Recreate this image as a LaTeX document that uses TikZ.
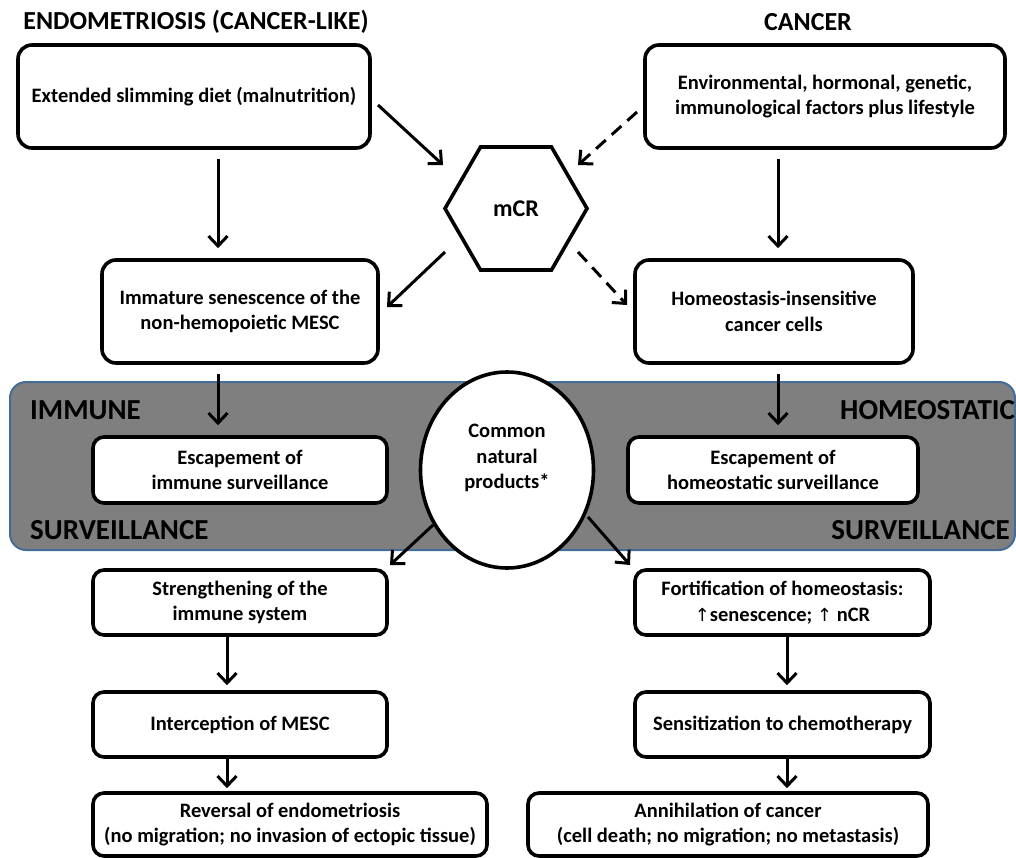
\documentclass[tikz,border=0pt]{standalone}
\usepackage{fontspec}
\setmainfont{Carlito}
\newfontfamily\arrowfont{DejaVu Sans}
\usetikzlibrary{arrows.meta,shapes.geometric}
\definecolor{bandgrey}{RGB}{127,127,127}
\definecolor{bandblue}{RGB}{68,108,152}
\begin{document}
\begin{tikzpicture}[x=1pt,y=-1pt,
  bodyfont/.style={font=\fontsize{20.5}{25.5}\selectfont\bfseries},
  box/.style={draw, line width=3.6pt, rounded corners=14pt, fill=white, align=center, inner sep=0pt, bodyfont},
  arr/.style={line width=3pt, -{Straight Barb[length=10pt,width=19pt,line width=3pt]}},
  darr/.style={arr, dash pattern=on 13pt off 8pt},
  title/.style={font=\fontsize{26}{30}\selectfont\bfseries},
  bandlbl/.style={font=\fontsize{29}{32}\selectfont\bfseries, inner sep=0pt}]
\useasboundingbox (0,0) rectangle (1016,858);

% grey band
\node (band) [rectangle, rounded corners=16pt, fill=bandgrey, draw=bandblue, line width=2pt,
  minimum width=1005pt, minimum height=168pt, inner sep=0pt] at (512.5,466) {};
\node (lblImm) [bandlbl, anchor=west] at (30,410) {IMMUNE};
\node (lblSurvL) [bandlbl, anchor=west] at (30,530) {SURVEILLANCE};
\node (lblHom) [bandlbl, anchor=west] at (840,410) {HOMEOSTATIC};
\node (lblSurvR) [bandlbl, anchor=east] at (1010,530) {SURVEILLANCE};

% titles
\node (tEndo) [title] at (196,22) {ENDOMETRIOSIS (CANCER-LIKE)};
\node (tCan) [title] at (808,22) {CANCER};

% boxes
\node (box1) [box, minimum width=352pt, minimum height=103pt] at (194,96.5) {Extended slimming diet (malnutrition)};
\node (box2) [box, minimum width=360pt, minimum height=103pt] at (825,96.5) {Environmental, hormonal, genetic,\\immunological factors plus lifestyle};
\node (hex) [draw, line width=3.6pt, regular polygon, regular polygon sides=6, minimum size=142pt, inner sep=0pt,
  font=\fontsize{24}{28}\selectfont\bfseries] at (516,208.5) {mCR};
\node (box3) [box, minimum width=276pt, minimum height=103pt] at (240,311.5) {Immature senescence of the\\non-hemopoietic MESC};
\node (box4) [box, minimum width=278pt, minimum height=103pt] at (774,311.5) {Homeostasis-insensitive\\cancer cells};
\node (box5) [box, rounded corners=11pt, minimum width=294pt, minimum height=66pt] at (240,470) {Escapement of\\immune surveillance};
\node (box6) [box, rounded corners=11pt, minimum width=290pt, minimum height=66pt] at (773,470) {Escapement of\\homeostatic surveillance};
\node (cnp) [ellipse, draw, line width=3.6pt, fill=white, minimum width=173pt, minimum height=196pt, inner sep=0pt,
  label={[bodyfont, align=center, yshift=12pt]center:Common\\natural\\products*}] at (507,470) {};
\node (box7) [box, rounded corners=11pt, minimum width=294pt, minimum height=65pt] at (240,602.5) {Strengthening of the\\immune system};
\node (box8) [box, rounded corners=11pt, minimum width=295pt, minimum height=65pt] at (782.5,602.5) {Fortification of homeostasis:\\{\arrowfont\mdseries\fontsize{18}{20}\selectfont ↑}senescence; {\arrowfont\mdseries\fontsize{18}{20}\selectfont ↑} nCR};
\node (box9) [box, rounded corners=11pt, minimum width=294pt, minimum height=65pt] at (240,724.5) {Interception of MESC};
\node (box10) [box, rounded corners=11pt, minimum width=295pt, minimum height=65pt] at (782.5,724.5) {Sensitization to chemotherapy};
\node (box11) [box, rounded corners=11pt, minimum width=394pt, minimum height=63pt] at (290,824.5) {Reversal of endometriosis\\(no migration; no invasion of ectopic tissue)};
\node (box12) [box, rounded corners=11pt, minimum width=400pt, minimum height=63pt] at (728,824.5) {Annihilation of cancer\\(cell death; no migration; no metastasis)};

% connector x positions
\coordinate (xL) at (218,0);
\coordinate (xR) at (778,0);
\coordinate (xL2) at (227,0);
\coordinate (xR2) at (787,0);

% diagonal connector ends
\coordinate (d1s) at (378,105);
\coordinate (d1e) at (443,165);
\coordinate (d2s) at (637,112);
\coordinate (d2e) at (578,165);
\coordinate (d3s) at (445,252);
\coordinate (d3e) at (387,307);
\coordinate (d4s) at (578,252);
\coordinate (d4e) at (627,305);
\coordinate (d5s) at (433,525);
\coordinate (d5e) at (390,565);
\coordinate (d6s) at (588,517);
\coordinate (d6e) at (630,565);

% connectors
\draw[arr, shorten <=9pt, shorten >=10pt] (box1.south -| xL) -- (box3.north -| xL);
\draw[arr, shorten <=9pt, shorten >=10pt] (box2.south -| xR) -- (box4.north -| xR);
\draw[arr, shorten <=9pt, shorten >=10pt] (box3.south -| xL) -- (box5.north -| xL);
\draw[arr, shorten <=9pt, shorten >=10pt] (box4.south -| xR) -- (box6.north -| xR);
\draw[arr] (d1s) -- (d1e);
\draw[darr] (d2s) -- (d2e);
\draw[arr] (d3s) -- (d3e);
\draw[darr] (d4s) -- (d4e);
\draw[arr] (d5s) -- (d5e);
\draw[arr] (d6s) -- (d6e);
\draw[arr, shorten >=5pt] (box7.south -| xL2) -- (box9.north -| xL2);
\draw[arr, shorten >=5pt] (box8.south -| xR2) -- (box10.north -| xR2);
\draw[arr, shorten >=3pt] (box9.south -| xL2) -- (box11.north -| xL2);
\draw[arr, shorten >=3pt] (box10.south -| xR2) -- (box12.north -| xR2);
\end{tikzpicture}
\end{document}
